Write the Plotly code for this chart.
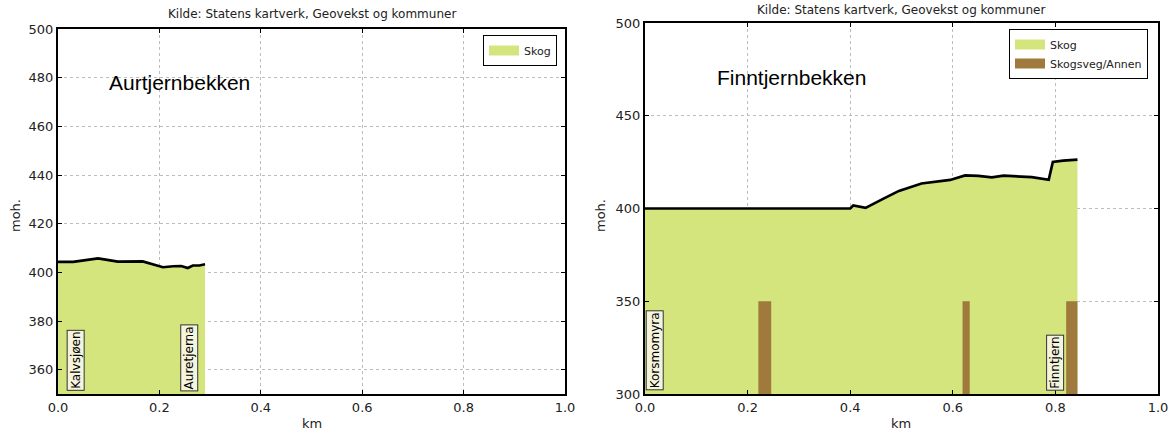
import plotly.graph_objects as go

W, H = 1174, 432

# ---------------- data ----------------
# Aurtjernbekken (left)
a_km = [0.0, 0.03, 0.079, 0.118, 0.167, 0.194, 0.207, 0.227, 0.243, 0.256, 0.266, 0.279, 0.29]
a_moh = [404.3, 404.3, 405.7, 404.4, 404.5, 402.8, 402.1, 402.5, 402.6, 401.8, 402.8, 402.8, 403.3]
a_places = ["Kalvsjøen", "Auretjerna"]
a_place_km = [0.034, 0.258]
a_place_moh = [351.2, 351.2]

# Finntjernbekken (right)
f_km = [0.0, 0.40, 0.406, 0.43, 0.465, 0.495, 0.539, 0.576, 0.595, 0.624, 0.65,
        0.676, 0.699, 0.754, 0.787, 0.795, 0.815, 0.843]
f_moh = [400.0, 400.0, 401.6, 400.3, 405.3, 409.5, 413.5, 415.0, 415.4, 417.8, 417.6,
         416.8, 417.7, 416.9, 415.5, 425.1, 425.8, 426.3]
f_road_start = [0.221, 0.619, 0.821]
f_road_end = [0.246, 0.633, 0.843]
f_band_bottom = 300
f_band_top = 350
f_places = ["Korsmomyra", "Finntjern"]
f_place_km = [0.0195, 0.80]
f_place_moh = [302, 302]

titles = ["Aurtjernbekken", "Finntjernbekken"]
source = "Kilde: Statens kartverk, Geovekst og kommuner"

GREEN = "rgb(212,229,125)"
BROWN = "rgb(160,122,60)"
FONT = "DejaVu Sans"

fig = go.Figure()

# Left panel
fig.add_trace(go.Scatter(x=a_km, y=a_moh, mode="none", fill="tozeroy", fillcolor=GREEN,
                         showlegend=False, xaxis="x", yaxis="y"))
fig.add_trace(go.Scatter(x=a_km, y=a_moh, mode="lines", line=dict(color="black", width=2.7),
                         showlegend=False, xaxis="x", yaxis="y"))
fig.add_trace(go.Scatter(x=[None], y=[None], mode="lines", line=dict(color=GREEN, width=10),
                         name="Skog", legend="legend", xaxis="x", yaxis="y"))

# Right panel
fig.add_trace(go.Scatter(x=f_km, y=f_moh, mode="none", fill="tozeroy", fillcolor=GREEN,
                         showlegend=False, xaxis="x2", yaxis="y2"))
road_x, road_y = [], []
for s, e in zip(f_road_start, f_road_end):
    road_x += [s, s, e, e, s, None]
    road_y += [f_band_bottom, f_band_top, f_band_top, f_band_bottom, f_band_bottom, None]
fig.add_trace(go.Scatter(x=road_x, y=road_y, mode="none", fill="toself", fillcolor=BROWN,
                         showlegend=False, xaxis="x2", yaxis="y2"))
fig.add_trace(go.Scatter(x=f_km, y=f_moh, mode="lines", line=dict(color="black", width=2.7),
                         showlegend=False, xaxis="x2", yaxis="y2"))
fig.add_trace(go.Scatter(x=[None], y=[None], mode="lines", line=dict(color=GREEN, width=10),
                         name="Skog", legend="legend2", xaxis="x2", yaxis="y2"))
fig.add_trace(go.Scatter(x=[None], y=[None], mode="lines", line=dict(color=BROWN, width=10),
                         name="Skogsveg/Annen", legend="legend2", xaxis="x2", yaxis="y2"))

axis_common = dict(showline=True, linecolor="black", linewidth=2, mirror="allticks",
                   ticks="inside", ticklen=4, tickcolor="black", showgrid=True,
                   gridcolor="#bdbdbd", griddash="dot", gridwidth=1, zeroline=False,
                   automargin=False,
                   tickfont=dict(family=FONT, size=13, color="#222"))

def px_x(p):
    return p / W

def px_y(p):
    return 1 - p / H

fig.update_layout(
    width=W, height=H, margin=dict(l=0, r=0, t=0, b=0, autoexpand=False),
    paper_bgcolor="white", plot_bgcolor="white",
    xaxis=dict(domain=[px_x(58), px_x(565)], range=[0, 1], dtick=0.2, tickformat=".1f",
               anchor="y", **axis_common),
    yaxis=dict(domain=[px_y(394), px_y(29)], range=[350, 500], tick0=360, dtick=20,
               anchor="x", **axis_common),
    xaxis2=dict(domain=[px_x(645), px_x(1158)], range=[0, 1], dtick=0.2, tickformat=".1f",
                anchor="y2", **axis_common),
    yaxis2=dict(domain=[px_y(394), px_y(23)], range=[300, 500], dtick=50,
                anchor="x2", **axis_common),
    legend=dict(x=px_x(557), y=px_y(35), xanchor="right", yanchor="top",
                bordercolor="black", borderwidth=1, bgcolor="white",
                font=dict(family=FONT, size=11, color="#222")),
    legend2=dict(x=px_x(1148), y=px_y(29), xanchor="right", yanchor="top",
                 bordercolor="black", borderwidth=1, bgcolor="white",
                 font=dict(family=FONT, size=11, color="#222")),
)

ann = []
# source titles
ann.append(dict(text=source, x=px_x(312), y=px_y(14), xref="paper", yref="paper",
                showarrow=False, font=dict(family=FONT, size=12, color="#222"),
                xanchor="center", yanchor="middle"))
ann.append(dict(text=source, x=px_x(901), y=px_y(10), xref="paper", yref="paper",
                showarrow=False, font=dict(family=FONT, size=12, color="#222"),
                xanchor="center", yanchor="middle"))
# axis titles
for cx in [312, 901]:
    ann.append(dict(text="km", x=px_x(cx), y=px_y(423), xref="paper", yref="paper",
                    showarrow=False, font=dict(family=FONT, size=13, color="#222"),
                    xanchor="center", yanchor="middle"))
for cx in [15, 600]:
    ann.append(dict(text="moh.", x=px_x(cx), y=px_y(216), xref="paper", yref="paper",
                    showarrow=False, textangle=-90, font=dict(family=FONT, size=13, color="#222"),
                    xanchor="center", yanchor="middle"))
# big names
ann.append(dict(text=titles[0], x=0.24, y=478, xref="x", yref="y", showarrow=False,
                font=dict(family="Liberation Sans", size=21, color="black"),
                xanchor="center", yanchor="middle"))
ann.append(dict(text=titles[1], x=0.285, y=470.6, xref="x2", yref="y2", showarrow=False,
                font=dict(family="Liberation Sans", size=21, color="black"),
                xanchor="center", yanchor="middle"))
# place labels
for name, xk, yk in zip(a_places, a_place_km, a_place_moh):
    ann.append(dict(text=name, x=xk, y=yk, xref="x", yref="y", showarrow=False, textangle=-90,
                    font=dict(family=FONT, size=12, color="black"), bgcolor="rgb(245,245,222)",
                    bordercolor="#333", borderwidth=1, borderpad=1,
                    xanchor="center", yanchor="bottom"))
for name, xk, yk in zip(f_places, f_place_km, f_place_moh):
    ann.append(dict(text=name, x=xk, y=yk, xref="x2", yref="y2", showarrow=False, textangle=-90,
                    font=dict(family=FONT, size=12, color="black"), bgcolor="rgb(245,245,222)",
                    bordercolor="#333", borderwidth=1, borderpad=1,
                    xanchor="center", yanchor="bottom"))
fig.update_layout(annotations=ann)

# remove the default page margin so the figure fills the window exactly; hide the modebar
fig.write_html("out.html", config={"displayModeBar": False},
               post_script="document.body.style.margin='0';")
